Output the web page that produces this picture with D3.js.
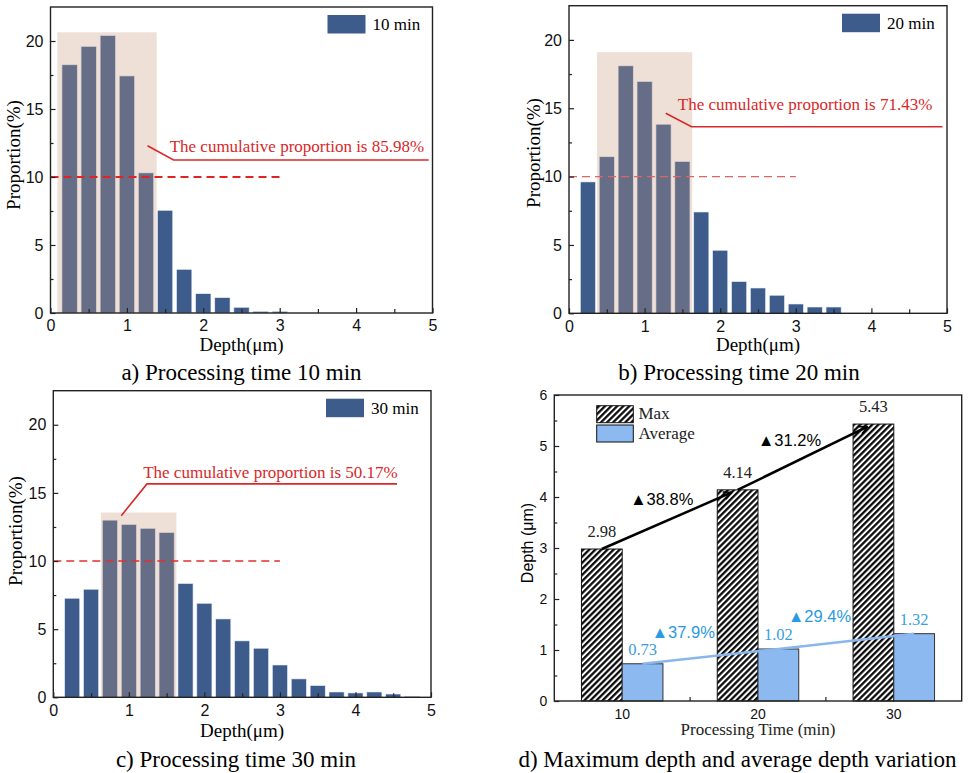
<!DOCTYPE html>
<html>
<head>
<meta charset="utf-8">
<script src="https://cdn.jsdelivr.net/npm/d3@7"></script>
<style>
  body { margin: 0; background: #fff; }
  svg { display: block; }
</style>
</head>
<body>
<div id="chart"></div>
<script>
// bin centres (um) shared by the three histograms
const depthBins = [0.25, 0.5, 0.75, 1.0, 1.25, 1.5, 1.75, 2.0, 2.25, 2.5, 2.75, 3.0, 3.25, 3.5, 3.75, 4.0, 4.25, 4.5, 4.75];
const prop10 = [18.25, 19.6, 20.4, 17.43, 10.3, 7.55, 3.21, 1.42, 1.13, 0.42, 0.12, 0.12];
const prop20 = [9.61, 11.45, 18.1, 16.95, 13.83, 11.1, 7.41, 4.61, 2.32, 1.85, 1.32, 0.68, 0.46, 0.46];
const prop30 = [7.27, 7.93, 13.0, 12.68, 12.4, 12.09, 8.35, 6.9, 5.75, 4.14, 3.6, 2.37, 1.35, 0.86, 0.39, 0.32, 0.39, 0.24, 0.07];
const seriesNames = ['10 min', '20 min', '30 min'];
const cumulative = ['85.98%', '71.43%', '50.17%'];
const captions = ['a) Processing time 10 min', 'b) Processing time 20 min', 'c) Processing time 30 min', 'd) Maximum depth and average depth variation'];

const xTicks = [0, 1, 2, 3, 4, 5];
const xMinor = [0.5, 1.5, 2.5, 3.5, 4.5];
const yTicks = [0, 5, 10, 15, 20];
const yMinor = [2.5, 7.5, 12.5, 17.5];

// panel d
const times = ['10', '20', '30'];
const maxDepth = [2.98, 4.14, 5.43];
const avgDepth = [0.73, 1.02, 1.32];
const maxGrowth = ['▲38.8%', '▲31.2%'];
const avgGrowth = ['▲37.9%', '▲29.4%'];
const dTicks = [0, 1, 2, 3, 4, 5, 6];
const dMinor = [0.5, 1.5, 2.5, 3.5, 4.5, 5.5];

const serif = '"Liberation Serif", "Times New Roman", serif';
const sans = '"Liberation Sans", Arial, sans-serif';
const barBlue = '#3d5c8c';
const red = '#d9282a';

const svg = d3.select('#chart').append('svg')
  .attr('width', 969)
  .attr('height', 773);

const defs = svg.append('defs');
const hatch = defs.append('pattern')
  .attr('id', 'hatch')
  .attr('patternUnits', 'userSpaceOnUse')
  .attr('width', 4.3)
  .attr('height', 4.3)
  .attr('patternTransform', 'rotate(45)');
hatch.append('rect').attr('width', 4.3).attr('height', 4.3).attr('fill', '#fff');
hatch.append('line')
  .attr('x1', 1.2).attr('y1', 0).attr('x2', 1.2).attr('y2', 4.3)
  .attr('stroke', '#000').attr('stroke-width', 2.2);

defs.append('marker')
  .attr('id', 'arrow')
  .attr('viewBox', '0 0 10 10')
  .attr('refX', 9)
  .attr('refY', 5)
  .attr('markerWidth', 4)
  .attr('markerHeight', 4)
  .attr('orient', 'auto')
  .append('path')
  .attr('d', 'M1,1 L9,5 L1,9')
  .attr('fill', 'none')
  .attr('stroke', '#000')
  .attr('stroke-width', 1.6);

// layout of the three histograms (pixel frame + annotation anchors in data units)
const panels = [
  {values: prop10, name: seriesNames[0], cum: cumulative[0],
   l: 50.5, t: 7, r: 432.5, b: 313,
   shade: [0.09, 1.39, 20.64], dashEnd: 3.0, dashColor: '#e02424', dashW: 1.8,
   lead: [[1.27, 12.3], [1.61, 11.25], [4.95, 11.25]], textAt: [1.56, 11.86],
   ylab: [20, 155], xlabY: 351, capX: 241.5},
  {values: prop20, name: seriesNames[1], cum: cumulative[1],
   l: 569, t: 5.7, r: 947, b: 313.3,
   shade: [0.37, 1.63, 19.1], dashEnd: 3.0, dashColor: '#e06464', dashW: 1.3,
   lead: [[1.28, 14.63], [1.62, 13.65], [4.94, 13.65]], textAt: [1.44, 14.87],
   ylab: [540, 153], xlabY: 351, capX: 739},
  {values: prop30, name: seriesNames[2], cum: cumulative[2],
   l: 53.3, t: 390.7, r: 431, b: 697.3,
   shade: [0.63, 1.63, 13.56], dashEnd: 3.0, dashColor: '#e03030', dashW: 1.4,
   lead: [[0.9, 13.33], [1.24, 15.66], [4.55, 15.66]], textAt: [1.19, 16.08],
   ylab: [22, 531], xlabY: 737, capX: 236}
];

function histPanel(p, idx) {
  const g = svg.append('g').attr('class', 'panel');
  const x = d3.scaleLinear().domain([0, 5]).range([p.l, p.r]);
  const y = d3.scaleLinear().domain([0, 22.5]).range([p.b, p.t]);
  const bw = x(0.2) - x(0);

  const rows = p.values.map((v, i) => ({d: depthBins[i], v: v}));
  g.append('g').selectAll('rect')
    .data(rows)
    .join('rect')
    .attr('x', d => x(d.d) - bw / 2)
    .attr('width', bw)
    .attr('y', d => y(d.v))
    .attr('height', d => y(0) - y(d.v))
    .attr('fill', barBlue)
    .attr('stroke', '#e8eef6')
    .attr('stroke-width', 0.6);

  // highlighted range
  g.append('rect')
    .attr('x', x(p.shade[0]))
    .attr('width', x(p.shade[1]) - x(p.shade[0]))
    .attr('y', y(p.shade[2]))
    .attr('height', y(0) - y(p.shade[2]))
    .attr('fill', '#c8957a')
    .attr('opacity', 0.3);

  // 10 % reference
  g.append('line')
    .attr('x1', x(0)).attr('x2', x(p.dashEnd))
    .attr('y1', y(10)).attr('y2', y(10))
    .attr('stroke', p.dashColor)
    .attr('stroke-width', p.dashW)
    .attr('stroke-dasharray', '8,5');

  // leader + note
  g.append('path')
    .attr('d', d3.line().x(d => x(d[0])).y(d => y(d[1]))(p.lead))
    .attr('fill', 'none')
    .attr('stroke', red)
    .attr('stroke-width', 1.6);
  g.append('text')
    .attr('x', x(p.textAt[0]))
    .attr('y', y(p.textAt[1]))
    .attr('font-family', serif)
    .attr('font-size', 17)
    .attr('fill', red)
    .text('The cumulative proportion is ' + p.cum);

  // axes with inward ticks
  g.append('g')
    .attr('transform', `translate(0,${p.b})`)
    .call(d3.axisBottom(x).tickValues(xTicks).tickSize(-5).tickSizeOuter(0).tickPadding(7).tickFormat(d3.format('d')));
  g.append('g')
    .attr('transform', `translate(0,${p.b})`)
    .call(d3.axisBottom(x).tickValues(xMinor).tickSize(-4).tickSizeOuter(0).tickFormat(''));
  g.append('g')
    .attr('transform', `translate(${p.l},0)`)
    .call(d3.axisLeft(y).tickValues(yTicks).tickSize(-5).tickSizeOuter(0).tickPadding(7).tickFormat(d3.format('d')));
  g.append('g')
    .attr('transform', `translate(${p.l},0)`)
    .call(d3.axisLeft(y).tickValues(yMinor).tickSize(-3).tickSizeOuter(0).tickFormat(''));
  g.selectAll('.domain').remove();
  g.selectAll('.tick line').attr('stroke', '#222').attr('stroke-width', 1.2);
  g.selectAll('.tick text').attr('font-family', sans).attr('font-size', 16).attr('fill', '#111');

  g.append('rect')
    .attr('x', p.l).attr('y', p.t)
    .attr('width', p.r - p.l).attr('height', p.b - p.t)
    .attr('fill', 'none')
    .attr('stroke', '#222')
    .attr('stroke-width', 1.4);

  // legend
  g.append('rect')
    .attr('x', p.r - 105).attr('y', p.t + 8)
    .attr('width', 38).attr('height', 18.5)
    .attr('fill', barBlue);
  g.append('text')
    .attr('x', p.r - 60).attr('y', p.t + 23)
    .attr('font-family', serif).attr('font-size', 17)
    .text(p.name);

  // axis titles
  g.append('text')
    .attr('transform', `translate(${p.ylab[0]},${p.ylab[1]}) rotate(-90)`)
    .attr('text-anchor', 'middle')
    .attr('font-family', serif).attr('font-size', 19)
    .text('Proportion(%)');
  g.append('text')
    .attr('x', (p.l + p.r) / 2).attr('y', p.xlabY)
    .attr('text-anchor', 'middle')
    .attr('font-family', serif).attr('font-size', 19)
    .text('Depth(μm)');

  g.append('text')
    .attr('x', p.capX).attr('y', idx < 2 ? 380 : 767)
    .attr('text-anchor', 'middle')
    .attr('font-family', serif).attr('font-size', 23)
    .text(captions[idx]);
}

panels.forEach(histPanel);

// ---- panel d: max / average depth ----
const dl = 554.3, dr = 961.7, dt = 395, db = 701;
const xD = d3.scaleBand().domain(times).range([dl, dr]).padding(0);
const yD = d3.scaleLinear().domain([0, 6]).range([db, dt]);
const w = xD.bandwidth() * 0.3;
const mid = t => xD(t) + xD.bandwidth() / 2;

const gd = svg.append('g').attr('class', 'panel-d');

gd.append('g').selectAll('rect')
  .data(times)
  .join('rect')
  .attr('x', t => mid(t) - w)
  .attr('width', w)
  .attr('y', (t, i) => yD(maxDepth[i]))
  .attr('height', (t, i) => yD(0) - yD(maxDepth[i]))
  .attr('fill', 'url(#hatch)')
  .attr('stroke', '#111')
  .attr('stroke-width', 1);

gd.append('g').selectAll('rect')
  .data(times)
  .join('rect')
  .attr('x', t => mid(t))
  .attr('width', w)
  .attr('y', (t, i) => yD(avgDepth[i]))
  .attr('height', (t, i) => yD(0) - yD(avgDepth[i]))
  .attr('fill', '#8cb9f0')
  .attr('stroke', '#333')
  .attr('stroke-width', 1);

// trend lines
for (let i = 0; i < times.length - 1; i++) {
  gd.append('line')
    .attr('x1', mid(times[i]) - w / 2).attr('y1', yD(maxDepth[i]))
    .attr('x2', mid(times[i + 1]) - w / 2 - 6).attr('y2', yD(maxDepth[i + 1]) + 2.6)
    .attr('stroke', '#000')
    .attr('stroke-width', 2.5)
    .attr('marker-end', 'url(#arrow)');
}
gd.append('path')
  .attr('d', d3.line().x((v, i) => mid(times[i]) + w / 2).y(v => yD(v))(avgDepth))
  .attr('fill', 'none')
  .attr('stroke', '#8ab6ee')
  .attr('stroke-width', 2.5);

// value labels
gd.append('g').selectAll('text')
  .data(maxDepth)
  .join('text')
  .attr('x', (v, i) => mid(times[i]) - w / 2)
  .attr('y', v => yD(v) - 12)
  .attr('text-anchor', 'middle')
  .attr('font-family', serif).attr('font-size', 16.5)
  .attr('fill', '#222')
  .text(v => v.toFixed(2));
gd.append('g').selectAll('text')
  .data(avgDepth)
  .join('text')
  .attr('x', (v, i) => mid(times[i]) + w / 2)
  .attr('y', v => yD(v) - 8.5)
  .attr('text-anchor', 'middle')
  .attr('font-family', serif).attr('font-size', 16.5)
  .attr('fill', '#3a9fdc')
  .text(v => v.toFixed(2));

// growth notes
const maxNoteAt = [[8, 3.85], [0, 5.0]];
const avgNoteAt = [[29.5, 1.24], [30, 1.54]];
maxGrowth.forEach((s, i) => {
  gd.append('text')
    .attr('x', mid(times[i]) + maxNoteAt[i][0])
    .attr('y', yD(maxNoteAt[i][1]))
    .attr('font-family', sans).attr('font-size', 16.5)
    .attr('fill', '#000')
    .text(s);
});
avgGrowth.forEach((s, i) => {
  gd.append('text')
    .attr('x', mid(times[i]) + avgNoteAt[i][0])
    .attr('y', yD(avgNoteAt[i][1]))
    .attr('font-family', sans).attr('font-size', 16.5)
    .attr('fill', '#2a9be0')
    .text(s);
});

// axes
gd.append('g')
  .attr('transform', `translate(0,${db})`)
  .call(d3.axisBottom(xD).tickSize(0).tickPadding(8));
gd.append('g').selectAll('line')
  .data(times.slice(1))
  .join('line')
  .attr('x1', t => xD(t)).attr('x2', t => xD(t))
  .attr('y1', db).attr('y2', db - 4)
  .attr('stroke', '#222').attr('stroke-width', 1.2);
gd.append('g')
  .attr('transform', `translate(${dl},0)`)
  .call(d3.axisLeft(yD).tickValues(dTicks).tickSize(-5).tickSizeOuter(0).tickPadding(7).tickFormat(d3.format('d')));
gd.append('g')
  .attr('transform', `translate(${dl},0)`)
  .call(d3.axisLeft(yD).tickValues(dMinor).tickSize(-3).tickSizeOuter(0).tickFormat(''));
gd.selectAll('.domain').remove();
gd.selectAll('.tick line').attr('stroke', '#222').attr('stroke-width', 1.2);
gd.selectAll('.tick text').attr('font-family', sans).attr('font-size', 14).attr('fill', '#111');

gd.append('rect')
  .attr('x', dl).attr('y', dt)
  .attr('width', dr - dl).attr('height', db - dt)
  .attr('fill', 'none')
  .attr('stroke', '#222')
  .attr('stroke-width', 1.4);

// legend
const legD = [{fill: 'url(#hatch)', label: 'Max'}, {fill: '#8cb9f0', label: 'Average'}];
legD.forEach((d, i) => {
  gd.append('rect')
    .attr('x', 596.7).attr('y', 405.7 + i * 19.3)
    .attr('width', 36.6).attr('height', 17)
    .attr('fill', d.fill)
    .attr('stroke', '#111').attr('stroke-width', 1);
  gd.append('text')
    .attr('x', 638.5).attr('y', 419 + i * 19.5)
    .attr('font-family', serif).attr('font-size', 17)
    .attr('fill', '#222')
    .text(d.label);
});

gd.append('text')
  .attr('transform', `translate(533,${(dt + db) / 2 - 5}) rotate(-90)`)
  .attr('text-anchor', 'middle')
  .attr('font-family', sans).attr('font-size', 16)
  .text('Depth (μm)');
gd.append('text')
  .attr('x', (dl + dr) / 2).attr('y', 735)
  .attr('text-anchor', 'middle')
  .attr('font-family', serif).attr('font-size', 17)
  .attr('fill', '#222')
  .text('Processing Time (min)');
gd.append('text')
  .attr('x', 737.5).attr('y', 767)
  .attr('text-anchor', 'middle')
  .attr('font-family', serif).attr('font-size', 23)
  .text(captions[3]);
</script>
</body>
</html>
